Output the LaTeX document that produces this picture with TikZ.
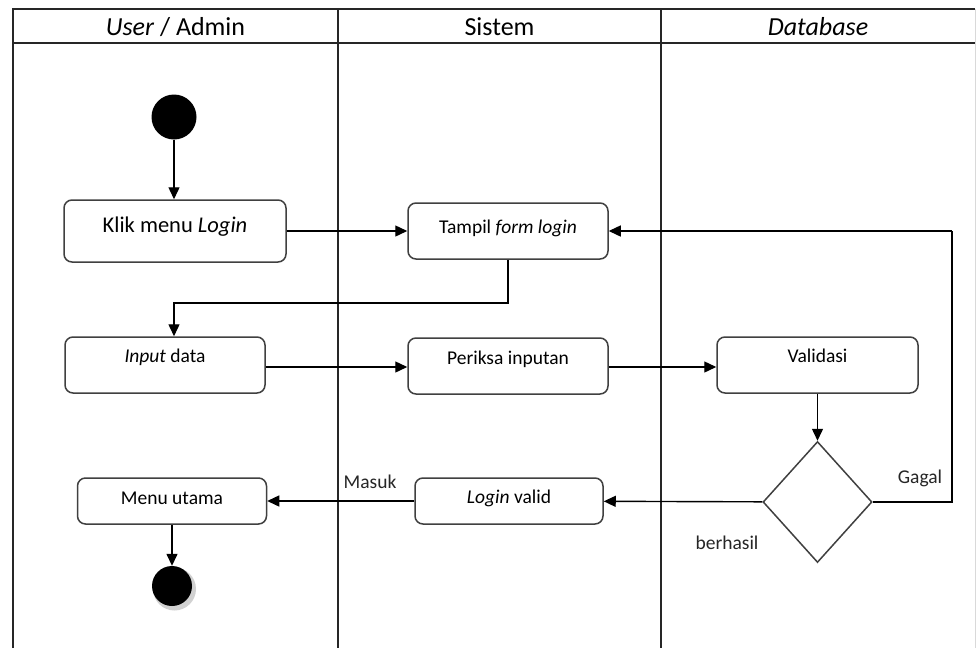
\documentclass[tikz,border=0pt]{standalone}
\usepackage{fontspec}
\setmainfont{Carlito}
\usetikzlibrary{arrows.meta,shapes.geometric}
\newcommand\rtxt[2]{\raisebox{#1pt}[1.4ex][0.4ex]{#2}}
\tikzset{
  lane/.style={line width=1.8pt,draw=black!85},
  actbox/.style={draw=black!75,line width=1.5pt,rounded corners=8pt,fill=white,inner sep=0pt,align=center},
  arr/.style={line width=1.4pt,-{Triangle[length=12pt,width=11pt]}},
  conn/.style={line width=1.4pt},
  txt/.style={font=\fontsize{19.5}{23}\selectfont},
  hdr/.style={font=\fontsize{26}{30}\selectfont,inner sep=0pt},
  lbl/.style={font=\fontsize{19.5}{23}\selectfont,inner sep=0pt,text=black!85}
}
\begin{document}
\begin{tikzpicture}[x=1pt,y=-1pt]
\useasboundingbox[fill=white] (0,0) rectangle (980,648);
% swimlanes
\draw[lane] (13,648) -- (13,9) -- (975,9);
\draw[lane] (13,43) -- (975,43);
\draw[lane] (338,9) -- (338,648);
\draw[lane] (661,9) -- (661,648);
\draw[line width=1pt,draw=black!15] (975,9) -- (975,648);
\node[hdr] (h1) at (175.5,27) {\textit{User} / Admin};
\node[hdr] (h2) at (499.5,27) {Sistem};
\node[hdr] (h3) at (818,27) {\textit{Database}};
% nodes
\node[circle,fill=black,minimum size=45pt,inner sep=0pt] (start) at (174,117) {};
\node[actbox,minimum width=222pt,minimum height=62pt,font=\fontsize{22.5}{26}\selectfont] (klik) at (175,231) {\rtxt{4}{Klik menu \textit{Login}}};
\node[actbox,txt,minimum width=200pt,minimum height=56pt] (tampil) at (508,231) {\rtxt{2}{Tampil \textit{form login}}};
\node[actbox,txt,minimum width=200pt,minimum height=56pt] (input) at (165,365) {\rtxt{7}{\textit{Input} data}};
\node[actbox,txt,minimum width=200pt,minimum height=56pt] (periksa) at (508,366) {\rtxt{6}{Periksa inputan}};
\node[actbox,txt,minimum width=201pt,minimum height=56pt] (validasi) at (817.5,365) {\rtxt{7}{Validasi}};
\node[diamond,draw=black!75,line width=1.5pt,minimum width=109pt,minimum height=121pt,inner sep=0pt] (dec) at (817.5,502) {};
\node[actbox,txt,minimum width=188pt,minimum height=46pt] (lvalid) at (509,501) {\rtxt{2}{\textit{Login} valid}};
\node[actbox,txt,minimum width=189pt,minimum height=46pt] (menu) at (172,501) {\rtxt{1}{Menu utama}};
\fill[black!18] (174.5,589) circle (21.5pt);
\node[circle,fill=black,minimum size=40pt,inner sep=0pt] (end) at (172,586) {};
% labels
\node[lbl] (masuk) at (370,482) {Masuk};
\node[lbl] (gagal) at (920,478) {Gagal};
\node[lbl] (berhasil) at (727,543) {berhasil};
% connectors
\coordinate (bend) at (174,303);
\coordinate (gk) at (952,231);
\draw[arr] (start) -- (start |- klik.north);
\draw[arr] (klik) -- (tampil);
\draw[arr] (tampil.south) |- (bend) -- (bend |- input.north);
\draw[arr] (input.east |- 0,367) -- (periksa.west |- 0,367);
\draw[arr] (periksa.east |- 0,367) -- (validasi.west |- 0,367);
\draw[arr] (validasi) -- (dec);
\draw[conn] (dec.east) -| (gk);
\draw[arr] (gk) -- (tampil.east);
\draw[arr] (dec) -- (lvalid);
\draw[arr] (lvalid) -- (menu);
\draw[arr] (menu.south) -- (end);
\end{tikzpicture}
\end{document}
